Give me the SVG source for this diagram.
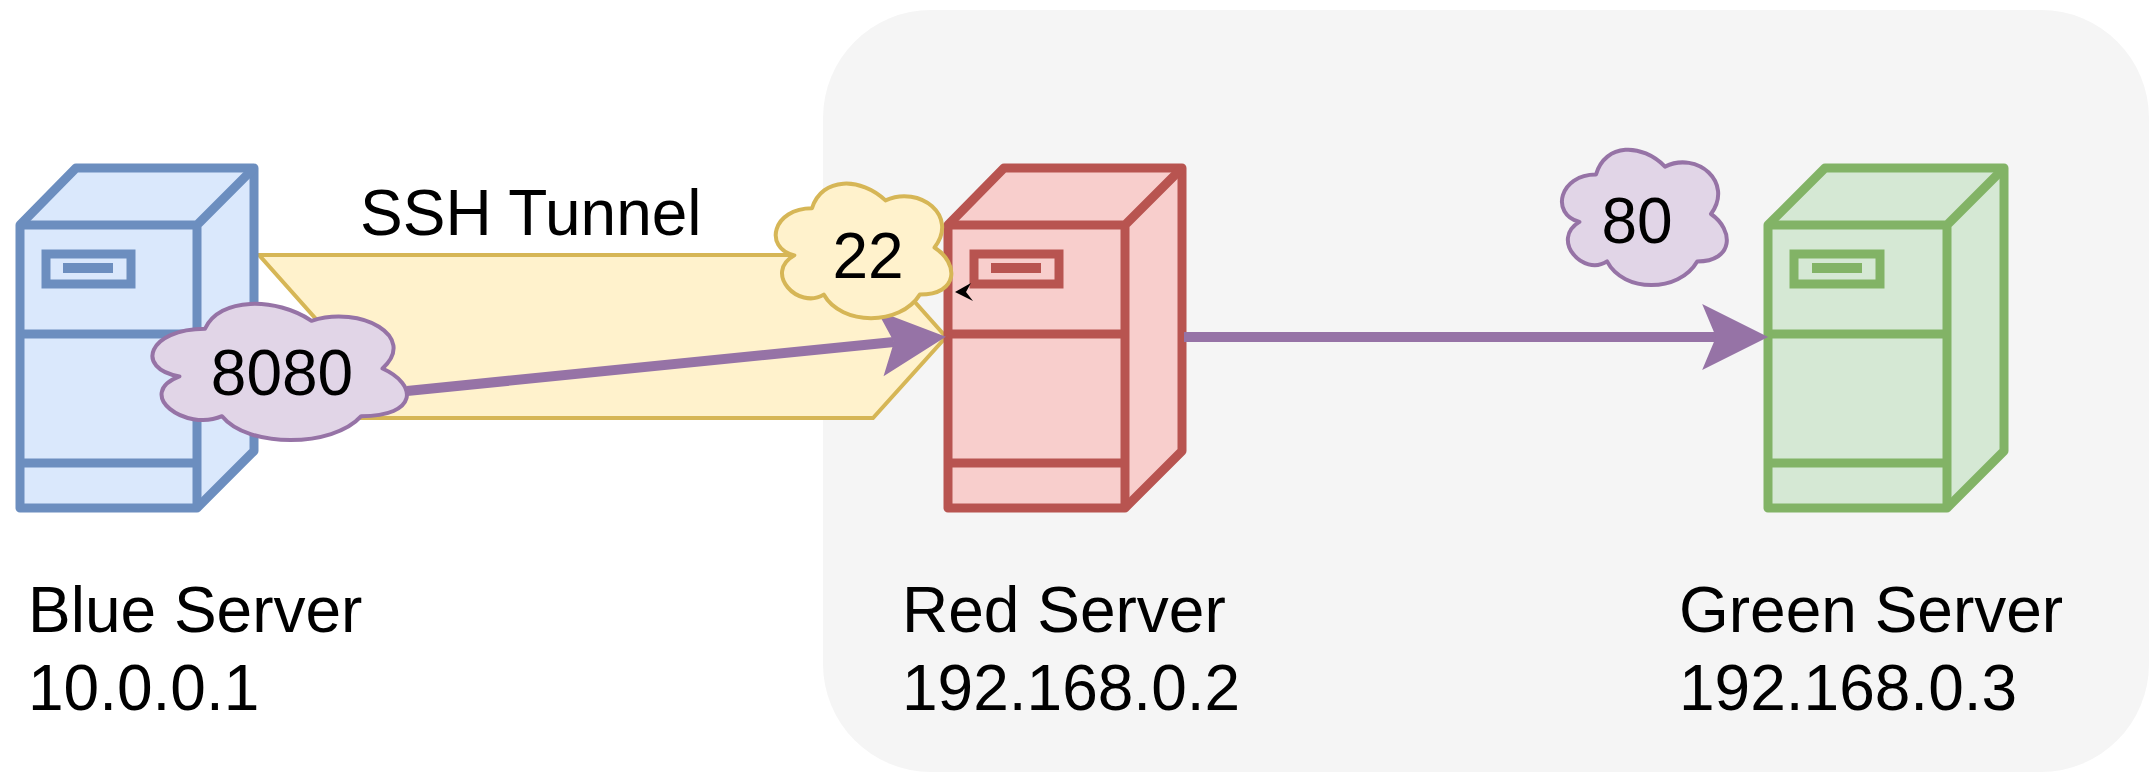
<svg xmlns="http://www.w3.org/2000/svg" width="2153" height="773" viewBox="0 0 2153 773">
<style>
.lbl{font-family:"Liberation Sans",Arial,Helvetica,sans-serif;font-size:64px;fill:#000}
.ctr{text-anchor:middle}
.srv .body{stroke-width:9;stroke-linejoin:round}
.srv .edge{fill:none;stroke-width:9;stroke-linejoin:round}
.srv .slot{stroke-width:9}
.blue .body,.blue .slot{fill:#dae8fc;stroke:#6c8ebf}.blue .edge{stroke:#6c8ebf}.blue .bar{fill:#6c8ebf}
.red .body,.red .slot{fill:#f8cecc;stroke:#b85450}.red .edge{stroke:#b85450}.red .bar{fill:#b85450}
.green .body,.green .slot{fill:#d5e8d4;stroke:#82b366}.green .edge{stroke:#82b366}.green .bar{fill:#82b366}
.cloud{stroke-width:4;vector-effect:non-scaling-stroke;stroke-linejoin:round}
.purple{fill:#e1d5e7;stroke:#9673a6}
.yellow{fill:#fff2cc;stroke:#d6b656}
.flow{fill:none;stroke:#9673a6;stroke-width:10}
</style>
<defs>
<marker id="ah" markerUnits="userSpaceOnUse" markerWidth="66" markerHeight="66" viewBox="0 0 62 62" refX="13" refY="31" orient="auto" overflow="visible">
<path d="M0,0 L62,31 L0,62 L13,31 Z" fill="#9673a6"/>
</marker>
</defs>
<rect id="zone" x="823" y="10" width="1326" height="762" rx="108" ry="108" fill="#f5f5f5"/>
<g id="ssh-tunnel">
<polygon points="259,255 873,255 946,337 873,418 259,418 332,337" fill="#fff2cc" stroke="#d6b656" stroke-width="4" stroke-linejoin="miter"/>
<text class="lbl" x="360" y="235">SSH Tunnel</text>
</g>
<g id="blue-server" class="srv blue" transform="translate(20,0)">
<path class="body" d="M0,225 L56,168 L234,168 L234,451 L177,508 L0,508 Z"/>
<path class="edge" d="M0,225 H177 V508 M177,225 L234,168 M0,334 H177 M0,463 H177"/>
<rect class="slot" x="26" y="254" width="85" height="30"/>
<rect class="bar" x="43" y="263" width="50" height="10"/>
</g>
<g id="red-server" class="srv red" transform="translate(948,0)">
<path class="body" d="M0,225 L56,168 L234,168 L234,451 L177,508 L0,508 Z"/>
<path class="edge" d="M0,225 H177 V508 M177,225 L234,168 M0,334 H177 M0,463 H177"/>
<rect class="slot" x="26" y="254" width="85" height="30"/>
<rect class="bar" x="43" y="263" width="50" height="10"/>
</g>
<g id="green-server" class="srv green" transform="translate(1768,0)">
<path class="body" d="M0,225 L57,168 L236,168 L236,451 L179,508 L0,508 Z"/>
<path class="edge" d="M0,225 H179 V508 M179,225 L236,168 M0,334 H179 M0,463 H179"/>
<rect class="slot" x="26" y="254" width="86" height="30"/>
<rect class="bar" x="44" y="263" width="50" height="10"/>
</g>
<g id="port-8080">
<path class="cloud purple" transform="translate(134,289) scale(284,159)" d="M0.25,0.25 C0.05,0.25 0,0.5 0.16,0.55 C0,0.66 0.18,0.9 0.31,0.8 C0.4,1 0.7,1 0.8,0.8 C1,0.8 1,0.6 0.875,0.5 C1,0.3 0.8,0.1 0.625,0.2 C0.5,0.05 0.3,0.05 0.25,0.25 Z"/>
<text class="lbl ctr" x="282" y="395">8080</text>
</g>
<g id="connectors">
<line class="flow" x1="407" y1="391" x2="894" y2="342" marker-end="url(#ah)"/>
<line class="flow" x1="1184" y1="337" x2="1716" y2="337" marker-end="url(#ah)"/>
<polygon points="955,292 971,283 966,292 973,301" fill="#000"/>
</g>
<g id="port-22">
<path class="cloud yellow" transform="translate(763,169) scale(196,157)" d="M0.25,0.25 C0.05,0.25 0,0.5 0.16,0.55 C0,0.66 0.18,0.9 0.31,0.8 C0.4,1 0.7,1 0.8,0.8 C1,0.8 1,0.6 0.875,0.5 C1,0.3 0.8,0.1 0.625,0.2 C0.5,0.05 0.3,0.05 0.25,0.25 Z"/>
<text class="lbl ctr" x="868" y="278">22</text>
</g>
<g id="port-80">
<path class="cloud purple" transform="translate(1550,135) scale(184,158)" d="M0.25,0.25 C0.05,0.25 0,0.5 0.16,0.55 C0,0.66 0.18,0.9 0.31,0.8 C0.4,1 0.7,1 0.8,0.8 C1,0.8 1,0.6 0.875,0.5 C1,0.3 0.8,0.1 0.625,0.2 C0.5,0.05 0.3,0.05 0.25,0.25 Z"/>
<text class="lbl ctr" x="1637" y="243">80</text>
</g>
<g id="labels">
<text class="lbl" x="28" y="632">Blue Server</text>
<text class="lbl" x="28" y="710">10.0.0.1</text>
<text class="lbl" x="902" y="632">Red Server</text>
<text class="lbl" x="902" y="710">192.168.0.2</text>
<text class="lbl" x="1679" y="632">Green Server</text>
<text class="lbl" x="1679" y="710">192.168.0.3</text>
</g>
</svg>
